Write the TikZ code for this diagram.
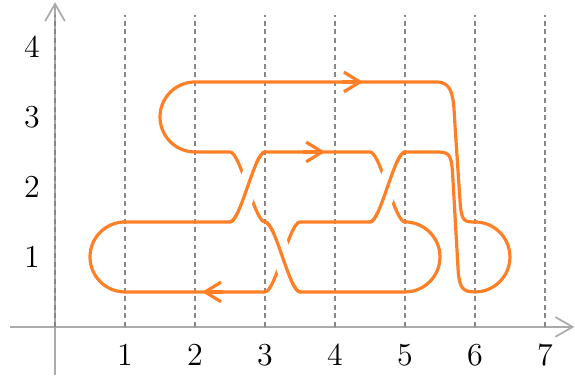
\documentclass[tikz,border=0pt]{standalone}
\usetikzlibrary{arrows.meta}
\definecolor{knotorange}{RGB}{255,127,39}
\definecolor{axisgray}{RGB}{170,170,170}
\definecolor{gridgray}{RGB}{135,135,135}
\begin{document}
\begin{tikzpicture}[
  knot/.style={draw=knotorange, line width=1.3pt, line join=round},
  halo/.style={draw=white, line width=8pt},
  axisline/.style={draw=axisgray, line width=0.7pt, -{Straight Barb[length=7pt,width=8pt]}},
  gridline/.style={draw=gridgray, line width=0.6pt, dash pattern=on 2pt off 1.5pt},
  arrowtip/.style={draw=knotorange, line width=1.3pt, -{Straight Barb[length=6.5pt,width=8pt]}},
  lbl/.style={font=\fontsize{13}{15}\selectfont, inner sep=0pt},
]
\useasboundingbox (-0.786,-0.714) rectangle (7.429,4.671);
% axes
\coordinate (xs) at (-0.64,0);
\coordinate (xe) at (7.42,0);
\coordinate (ys) at (0,-0.69);
\coordinate (ye) at (0,4.64);
\draw[axisline] (xs) -- (xe);
\draw[axisline] (ys) -- (ye);
% grid
\foreach \x in {0,...,7} {
  \coordinate (g\x b) at (\x,0);
  \coordinate (g\x t) at (\x,4.45);
  \draw[gridline] (g\x b) -- (g\x t);
}
% labels
\foreach \x in {1,...,7} \node[lbl] (xl\x) at (\x,-0.4) {\x};
\foreach \y in {1,...,4} \node[lbl] (yl\y) at (-0.33,\y) {\y};
% knot
\draw[knot] (1.5,0.5) -- (1,0.5) arc[start angle=270,end angle=90,radius=0.5]
 -- (2.5,1.5) .. controls (2.65,1.5) and (2.85,2.5) .. (3,2.5)
 -- (4.5,2.5) .. controls (4.65,2.5) and (4.85,1.5) .. (5,1.5)
 arc[start angle=90,end angle=-90,radius=0.5]
 -- (3.5,0.5) .. controls (3.35,0.5) and (3.15,1.5) .. (3,1.5)
 .. controls (2.85,1.5) and (2.65,2.5) .. (2.5,2.5)
 -- (2,2.5) arc[start angle=270,end angle=90,radius=0.5]
 -- (5.45,3.5) .. controls (5.72,3.5) and (5.69,3.2) .. (5.72,2.8)
 -- (5.79,1.75) .. controls (5.81,1.5) and (5.86,1.5) .. (6,1.5)
 arc[start angle=90,end angle=-90,radius=0.5]
 .. controls (5.83,0.5) and (5.78,0.55) .. (5.76,0.8)
 -- (5.68,2.2) .. controls (5.66,2.5) and (5.62,2.5) .. (5.4,2.5)
 -- (5,2.5)
 .. controls (4.85,2.5) and (4.65,1.5) .. (4.5,1.5)
 -- (3.5,1.5) .. controls (3.35,1.5) and (3.15,0.5) .. (3,0.5) -- cycle;
% over-crossings
\begin{scope}
  \clip (2.55,1.65) rectangle (2.95,2.35);
  \draw[halo] (2.5,1.5) .. controls (2.65,1.5) and (2.85,2.5) .. (3,2.5);
\end{scope}
\draw[knot] (2.5,1.5) .. controls (2.65,1.5) and (2.85,2.5) .. (3,2.5);
\begin{scope}
  \clip (3.05,0.65) rectangle (3.45,1.35);
  \draw[halo] (3,1.5) .. controls (3.15,1.5) and (3.35,0.5) .. (3.5,0.5);
\end{scope}
\draw[knot] (3,1.5) .. controls (3.15,1.5) and (3.35,0.5) .. (3.5,0.5);
\begin{scope}
  \clip (4.55,1.65) rectangle (4.95,2.35);
  \draw[halo] (4.5,1.5) .. controls (4.65,1.5) and (4.85,2.5) .. (5,2.5);
\end{scope}
\draw[knot] (4.5,1.5) .. controls (4.65,1.5) and (4.85,2.5) .. (5,2.5);
% direction arrows
\coordinate (a1s) at (4.1,3.5); \coordinate (a1e) at (4.4,3.5);
\coordinate (a2s) at (3.55,2.5); \coordinate (a2e) at (3.86,2.5);
\coordinate (a3s) at (2.4,0.5); \coordinate (a3e) at (2.1,0.5);
\draw[arrowtip] (a1s) -- (a1e);
\draw[arrowtip] (a2s) -- (a2e);
\draw[arrowtip] (a3s) -- (a3e);
\end{tikzpicture}
\end{document}
